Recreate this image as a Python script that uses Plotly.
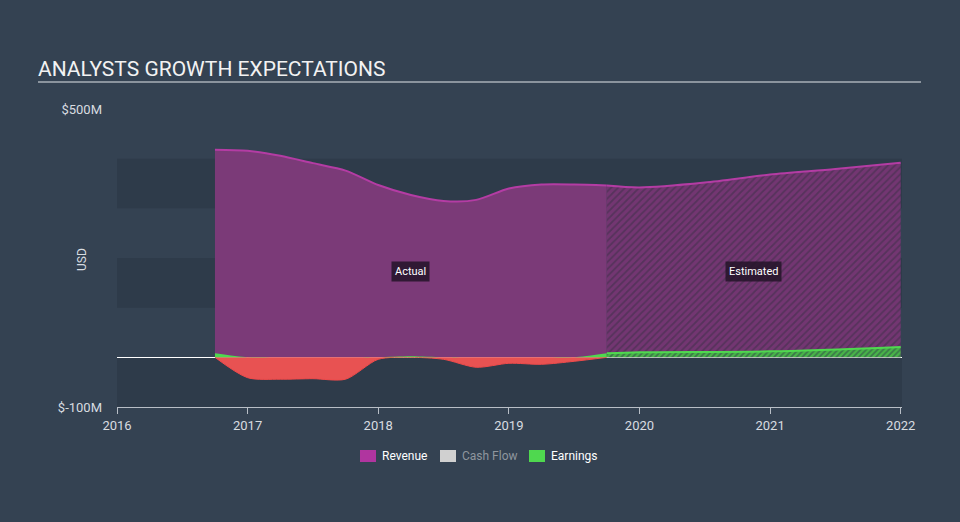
import plotly.graph_objects as go

# ---------------- data ----------------
rev_actual_x = [2016.75, 2017.0, 2017.25, 2017.5, 2017.75, 2018.0, 2018.25, 2018.5, 2018.75, 2019.0, 2019.25, 2019.5, 2019.75]
rev_actual_y = [418, 416, 406, 391, 376, 347, 327, 315, 317, 340, 348, 348, 346]
rev_est_x = [2019.75, 2020.0, 2020.5, 2021.0, 2021.5, 2022.0]
rev_est_y = [346, 342, 352, 368, 379, 392]

earn_actual_x = [2016.75, 2017.0, 2017.25, 2017.5, 2017.75, 2018.0, 2018.25, 2018.5, 2018.75, 2019.0, 2019.25, 2019.5, 2019.75]
earn_actual_y = [8, -41, -44, -43, -44, -4, 2, -4, -20, -12, -14, -8, 8]
earn_est_x = [2019.75, 2020.0, 2021.0, 2022.0]
earn_est_y = [8, 10, 12, 21]

year_ticks = [2016, 2017, 2018, 2019, 2020, 2021, 2022]
y_ticks = [-100, 500]
y_tick_labels = ["$-100M", "$500M"]
band_edges = [-100, 0, 100, 200, 300, 400]
legend_names = ["Revenue", "Cash Flow", "Earnings"]

# ---------------- styles ----------------
PAGE = "#344252"
BAND = "#2e3b4a"
REV_FILL = "#7b3a78"
REV_LINE = "#b43ca4"
REV_SWATCH = "#b0359f"
NEG_FILL = "#e85252"
NEG_LINE = "#f04a4a"
POS = "#4fd84f"
FONT = "Roboto"

W, H = 960, 522
L, R, T, B = 117, 58, 109, 115
PW, PH = W - L - R, H - T - B

def px_to_paper_x(px):
    return (px - L) / PW

def px_to_paper_y(py):
    return (H - B - py) / PH

fig = go.Figure()

# Revenue actual
fig.add_trace(go.Scatter(
    x=rev_actual_x, y=rev_actual_y, mode="lines", fill="tozeroy",
    line=dict(color=REV_LINE, width=2, shape="spline", smoothing=0.8),
    fillcolor=REV_FILL, showlegend=False, hoverinfo="skip"))
# Revenue estimated (hatched)
fig.add_trace(go.Scatter(
    x=rev_est_x, y=rev_est_y, mode="lines", fill="tozeroy",
    line=dict(color=REV_LINE, width=2, shape="spline", smoothing=0.8),
    fillcolor=REV_FILL,
    fillpattern=dict(shape="/", bgcolor="#733672", fgcolor="#3a2f45", size=5, solidity=0.35),
    showlegend=False, hoverinfo="skip"))

# Earnings actual: negative part red, positive part green
neg = [min(v, 0) for v in earn_actual_y]
pos = [max(v, 0) for v in earn_actual_y]
fig.add_trace(go.Scatter(
    x=earn_actual_x, y=neg, mode="lines", fill="tozeroy",
    line=dict(color=NEG_LINE, width=1, shape="spline", smoothing=0.8),
    fillcolor=NEG_FILL, showlegend=False, hoverinfo="skip"))
fig.add_trace(go.Scatter(
    x=earn_actual_x, y=pos, mode="lines", fill="tozeroy",
    line=dict(color=POS, width=0, shape="spline", smoothing=0.8),
    fillcolor=POS, showlegend=False, hoverinfo="skip"))
# Earnings estimated (hatched green)
fig.add_trace(go.Scatter(
    x=earn_est_x, y=earn_est_y, mode="lines", fill="tozeroy",
    line=dict(color=POS, width=2, shape="spline", smoothing=0.8),
    fillcolor=POS,
    fillpattern=dict(shape="/", bgcolor="#48b548", fgcolor="#2e3b4a", size=4, solidity=0.45),
    showlegend=False, hoverinfo="skip"))

# Background bands
shapes = []
for i in range(len(band_edges) - 1):
    if i % 2 == 0:
        shapes.append(dict(type="rect", xref="paper", yref="y", x0=0, x1=1,
                           y0=band_edges[i], y1=band_edges[i + 1],
                           fillcolor=BAND, line=dict(width=0), layer="below"))
# Title underline
shapes.append(dict(type="line", xref="paper", yref="paper",
                   x0=px_to_paper_x(38), x1=px_to_paper_x(921),
                   y0=px_to_paper_y(82), y1=px_to_paper_y(82),
                   line=dict(color="#a9b0b8", width=1.5)))

annotations = [
    dict(x=(rev_actual_x[0] + rev_actual_x[-1]) / 2, y=173, xref="x", yref="y", text="Actual",
         showarrow=False, font=dict(family=FONT, size=11, color="#ffffff"),
         bgcolor="rgba(35,20,40,0.85)", borderpad=3),
    dict(x=(rev_est_x[0] + rev_est_x[-1]) / 2, y=173, xref="x", yref="y", text="Estimated",
         showarrow=False, font=dict(family=FONT, size=11, color="#ffffff"),
         bgcolor="rgba(35,20,40,0.85)", borderpad=3),
    dict(x=px_to_paper_x(82), y=px_to_paper_y(260), xref="paper", yref="paper", text="USD",
         xanchor="center", yanchor="middle",
         textangle=-90, showarrow=False, font=dict(family=FONT, size=12, color="#d8dce0")),
]

# Legend (swatch + label)
legend_swatch_colors = [REV_SWATCH, "#d0d0d0", POS]
legend_text_colors = ["#ffffff", "#8f969e", "#ffffff"]
legend_x = [360, 440, 529]
for name, sc, tc, lx in zip(legend_names, legend_swatch_colors, legend_text_colors, legend_x):
    shapes.append(dict(type="rect", xref="paper", yref="paper",
                       x0=px_to_paper_x(lx), x1=px_to_paper_x(lx + 16),
                       y0=px_to_paper_y(462), y1=px_to_paper_y(450),
                       fillcolor=sc, line=dict(width=0)))
    annotations.append(dict(x=px_to_paper_x(lx + 20), y=px_to_paper_y(456), xref="paper", yref="paper",
                            text=name, xanchor="left", yanchor="middle", showarrow=False,
                            font=dict(family=FONT, size=12, color=tc)))

fig.update_layout(
    width=W, height=H,
    margin=dict(l=L, r=R, t=T, b=B),
    paper_bgcolor=PAGE, plot_bgcolor=PAGE,
    font=dict(family=FONT, color="#d8dce0", size=12),
    title=dict(text="ANALYSTS GROWTH EXPECTATIONS", x=38 / W, xanchor="left",
               y=1 - 69 / H, yanchor="middle", xref="container", yref="container",
               font=dict(family=FONT, size=21, color="#f2f2f2")),
    shapes=shapes,
    annotations=annotations,
    showlegend=False,
    hovermode=False,
)

fig.update_xaxes(range=[2016, 2022.01], tickvals=year_ticks, ticktext=[str(t) for t in year_ticks],
                 showgrid=False, zeroline=False, showline=True, linecolor="#b8bec6", linewidth=1,
                 ticks="outside", ticklen=6, tickcolor="#b8bec6", automargin=False,
                 tickfont=dict(family=FONT, size=13, color="#d8dce0"), fixedrange=True)
fig.update_yaxes(range=[-100, 500], tickvals=y_ticks, ticktext=y_tick_labels,
                 showgrid=False, zeroline=True, zerolinecolor="#ffffff", zerolinewidth=1,
                 showline=False, ticks="", ticklabelstandoff=14, automargin=False,
                 tickfont=dict(family=FONT, size=13, color="#d8dce0"), fixedrange=True)

fig.write_html("out.html")
